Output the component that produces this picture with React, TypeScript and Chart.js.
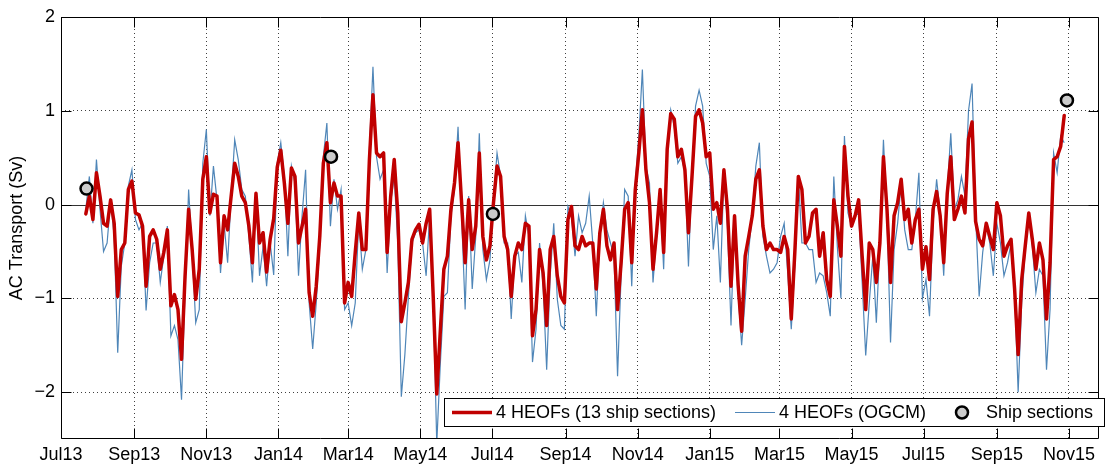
import { useEffect, useRef } from "react";
import { Chart, registerables } from "chart.js";

Chart.register(...registerables);

// Daily AC transport anomalies (Sv), sampled every 3 days from day 21 after 1 Jul 2013
const FIRST_DAY = 21;
const STEP_DAYS = 3;

// 4 HEOFs reconstruction trained on 13 ship sections
const heofShipSections = [
  -0.10, 0.09, -0.16, 0.34, 0.09, -0.20, -0.23, 0.05, -0.20, -0.98,
  -0.48, -0.41, 0.16, 0.25, -0.09, -0.11, -0.23, -0.87, -0.34, -0.27,
  -0.37, -0.69, -0.51, -0.27, -1.08, -0.96, -1.12, -1.65, -0.76, -0.05,
  -0.48, -1.01, -0.69, 0.27, 0.51, -0.09, 0.11, 0.09, -0.62, -0.12,
  -0.27, 0.09, 0.44, 0.30, 0.09, 0.02, -0.23, -0.62, 0.12, -0.41,
  -0.30, -0.72, -0.37, -0.15, 0.40, 0.58, 0.23, -0.20, 0.39, 0.30,
  -0.41, -0.23, -0.05, -0.94, -1.19, -0.87, -0.34, 0.44, 0.66, 0.02,
  0.23, 0.09, 0.09, -1.05, -0.83, -0.98, -0.51, -0.09, -0.48, -0.48,
  0.48, 1.17, 0.55, 0.51, 0.55, -0.51, 0.09, 0.48, -0.09, -1.25,
  -1.05, -0.83, -0.37, -0.27, -0.21, -0.41, -0.20, -0.05, -0.98, -2.02,
  -1.35, -0.69, -0.55, -0.05, 0.23, 0.66, 0.02, -0.62, 0.05, -0.48,
  -0.23, 0.55, -0.34, -0.59, -0.44, 0.02, 0.41, 0.30, -0.34, -0.48,
  -0.98, -0.55, -0.41, -0.48, -0.20, -0.23, -1.40, -1.12, -0.48, -0.73,
  -1.29, -0.48, -0.34, -0.76, -0.98, -1.05, -0.16, -0.02, -0.44, -0.48,
  -0.34, -0.44, -0.41, -0.41, -0.90, -0.30, -0.05, -0.44, -0.59, -0.41,
  -1.12, -0.62, -0.05, 0.02, -0.62, 0.16, 0.55, 1.01, 0.37, 0.02,
  -0.69, -0.30, 0.16, -0.51, 0.59, 0.97, 0.91, 0.51, 0.59, 0.37,
  -0.30, 0.30, 0.94, 1.01, 0.87, 0.51, 0.55, -0.05, 0.02, -0.20,
  0.37, -0.05, -0.87, -0.12, -0.85, -1.35, -0.55, -0.34, -0.12, 0.27,
  0.37, -0.23, -0.48, -0.41, -0.48, -0.48, -0.51, -0.34, -0.48, -1.22,
  -0.51, 0.30, 0.16, -0.41, -0.34, -0.09, -0.05, -0.55, -0.30, -0.80,
  -0.98, 0.05, -0.23, -0.55, 0.62, 0.09, -0.23, -0.12, 0.05, -0.55,
  -1.12, -0.41, -0.48, -0.83, -0.41, 0.51, -0.05, -0.83, -0.12, 0.02,
  0.27, -0.16, -0.05, -0.41, -0.16, -0.05, -0.69, -0.45, -0.80, -0.05,
  0.14, -0.12, -0.62, 0.12, 0.51, -0.16, -0.05, 0.09, -0.09, 0.70,
  0.88, -0.18, -0.37, -0.44, -0.20, -0.34, -0.48, 0.02, -0.12, -0.55,
  -0.44, -0.37, -0.90, -1.60, -0.80, -0.44, -0.09, -0.37, -0.69, -0.41,
  -0.59, -1.22, -0.62, 0.48, 0.51, 0.62, 0.95,
];

// 4 HEOFs reconstruction from the ocean model (OGCM)
const heofOgcm = [
  -0.05, 0.30, -0.20, 0.48, -0.05, -0.50, -0.41, 0.04, -0.34, -1.58,
  -0.66, -0.41, 0.20, 0.37, -0.16, -0.27, -0.20, -1.13, -0.62, -0.41,
  -0.41, -0.83, -0.55, -0.23, -1.40, -1.29, -1.44, -2.08, -0.90, 0.16,
  -0.51, -1.26, -1.12, 0.44, 0.80, -0.12, 0.41, 0.05, -0.73, -0.20,
  -0.62, 0.09, 0.69, 0.48, 0.16, 0.09, -0.34, -0.83, 0.12, -0.76,
  -0.45, -0.87, -0.41, -0.75, 0.44, 0.66, 0.30, -0.55, 0.41, 0.23,
  -0.76, -0.12, 0.37, -1.05, -1.54, -1.05, -0.41, 0.51, 0.87, -0.23,
  0.27, -0.05, 0.16, -1.12, -1.05, -1.29, -1.05, -0.16, -0.69, -0.48,
  0.59, 1.47, 0.51, 0.27, 0.37, -0.73, 0.02, 0.30, -0.41, -2.05,
  -1.60, -0.98, -0.41, -0.30, -0.27, -0.41, -0.76, -0.12, -0.98, -2.55,
  -1.70, -0.98, -0.94, -0.12, 0.16, 0.83, -0.12, -1.12, 0.09, -0.90,
  -0.34, 0.76, -0.48, -0.80, -0.59, 0.05, 0.55, 0.30, -0.41, -0.41,
  -1.22, -0.55, -0.51, -0.83, -0.12, -0.34, -1.68, -1.33, -0.41, -0.87,
  -1.76, -0.76, -0.20, -1.01, -1.29, -1.33, -0.02, -0.12, -0.55, -0.12,
  -0.30, -0.20, 0.09, -0.41, -1.19, -0.34, 0.02, -0.27, -0.41, -0.55,
  -1.83, -0.76, 0.16, 0.09, -0.87, 0.23, 0.73, 1.44, 0.41, 0.23,
  -0.83, -0.34, 0.12, -0.69, 0.62, 1.01, 0.83, 0.44, 0.51, 0.34,
  -0.66, 0.34, 1.05, 1.22, 1.05, 0.44, 0.30, -0.48, -0.12, -0.83,
  0.34, -0.23, -1.29, -0.12, -0.95, -1.50, -1.01, -0.48, -0.12, 0.41,
  0.66, -0.34, -0.55, -0.73, -0.69, -0.62, -0.34, -0.20, -0.73, -1.33,
  -0.66, 0.30, -0.41, -0.41, -0.48, -0.48, -0.83, -0.73, -0.76, -0.94,
  -1.19, 0.30, -0.45, -1.00, 0.73, -0.09, -0.23, -0.12, -0.09, -0.83,
  -1.61, -1.05, -0.55, -1.26, -0.41, 0.69, -0.12, -1.47, -0.48, -0.20,
  0.23, -0.27, -0.48, -0.48, -0.16, 0.34, -1.00, -0.80, -1.19, -0.20,
  0.27, -0.09, -0.76, 0.16, 0.76, -0.05, 0.05, 0.30, 0.09, 1.00,
  1.29, -0.12, -0.98, -0.51, -0.23, -0.41, -0.76, -0.20, -0.41, -0.76,
  -0.62, -0.41, -0.94, -2.00, -1.05, -0.48, -0.12, -0.44, -0.94, -0.69,
  -0.76, -1.76, -1.12, 0.55, 0.34, 0.73, 0.66,
];

// Ship-section transports (day after 1 Jul 2013, Sv)
const shipDays = [21.6, 228.5, 365.5, 851.3];
const shipValues = [0.17, 0.51, -0.1, 1.11];

// Axis ticks: first day of every other month, counted from 1 Jul 2013
const monthTickDays = [0, 62, 123, 184, 243, 304, 365, 427, 488, 549, 608, 669, 730, 792, 853];
const monthTickLabels = [
  "Jul13", "Sep13", "Nov13", "Jan14", "Mar14", "May14", "Jul14", "Sep14",
  "Nov14", "Jan15", "Mar15", "May15", "Jul15", "Sep15", "Nov15",
];
const yTickValues = [-2, -1, 0, 1, 2];

const X_MAX_DAY = 878;
const FONT = '"Liberation Sans", Arial, Helvetica, sans-serif';
const RED = "#c00000";
const BLUE = "#4f86b8";
const TICK_LEN = 10;

const matlabAxes = {
  id: "matlabAxes",
  beforeDatasetsDraw(chart: any) {
    const { ctx, chartArea: a, scales } = chart;
    const y0 = Math.round(scales.y.getPixelForValue(0)) + 0.5;
    ctx.save();
    ctx.strokeStyle = "#333";
    ctx.lineWidth = 1;
    ctx.beginPath();
    ctx.moveTo(a.left, y0);
    ctx.lineTo(a.right, y0);
    ctx.stroke();
    ctx.restore();
  },
  afterDatasetsDraw(chart: any) {
    const { ctx, chartArea: a, scales } = chart;
    const L = Math.floor(a.left) + 0.5;
    const R = Math.ceil(a.right) - 0.5;
    const T = Math.floor(a.top) + 0.5;
    const B = Math.ceil(a.bottom) - 0.5;
    ctx.save();
    ctx.strokeStyle = "#000";
    ctx.lineWidth = 1;
    ctx.beginPath();
    ctx.rect(L, T, R - L, B - T);
    for (const d of monthTickDays) {
      const x = Math.round(scales.x.getPixelForValue(d)) + 0.5;
      ctx.moveTo(x, B);
      ctx.lineTo(x, B - TICK_LEN);
      ctx.moveTo(x, T);
      ctx.lineTo(x, T + TICK_LEN);
    }
    for (const v of yTickValues) {
      const y = Math.round(scales.y.getPixelForValue(v)) + 0.5;
      ctx.moveTo(L, y);
      ctx.lineTo(L + TICK_LEN, y);
      ctx.moveTo(R, y);
      ctx.lineTo(R - TICK_LEN, y);
    }
    ctx.stroke();
    ctx.restore();
  },
  afterDraw(chart: any) {
    const { ctx, chartArea: a } = chart;
    ctx.save();
    // y-axis title
    ctx.fillStyle = "#000";
    ctx.font = `18px ${FONT}`;
    ctx.translate(17, (a.top + a.bottom) / 2);
    ctx.rotate(-Math.PI / 2);
    ctx.textAlign = "center";
    ctx.textBaseline = "middle";
    ctx.fillText("AC Transport (Sv)", 0, 0);
    ctx.restore();

    // legend box in the lower right corner of the axes
    const bx = 444.5, by = 398.5, bw = 660, bh = 28;
    const cy = by + bh / 2;
    ctx.save();
    ctx.fillStyle = "#fff";
    ctx.fillRect(bx, by, bw, bh);
    ctx.strokeStyle = "#000";
    ctx.lineWidth = 1;
    ctx.strokeRect(bx, by, bw, bh);

    ctx.font = `18px ${FONT}`;
    ctx.fillStyle = "#000";
    ctx.textAlign = "left";
    ctx.textBaseline = "middle";

    ctx.strokeStyle = RED;
    ctx.lineWidth = 3.5;
    ctx.beginPath();
    ctx.moveTo(452, cy);
    ctx.lineTo(492, cy);
    ctx.stroke();
    ctx.fillText("4 HEOFs (13 ship sections)", 496, cy + 1);

    ctx.strokeStyle = BLUE;
    ctx.lineWidth = 1.2;
    ctx.beginPath();
    ctx.moveTo(735, cy);
    ctx.lineTo(775, cy);
    ctx.stroke();
    ctx.fillText("4 HEOFs (OGCM)", 779, cy + 1);

    ctx.beginPath();
    ctx.arc(962, cy, 6, 0, Math.PI * 2);
    ctx.fillStyle = "#cccccc";
    ctx.fill();
    ctx.strokeStyle = "#000";
    ctx.lineWidth = 2.5;
    ctx.stroke();
    ctx.fillStyle = "#000";
    ctx.fillText("Ship sections", 986, cy + 1);
    ctx.restore();
  },
};

export default function App() {
  const canvasRef = useRef<HTMLCanvasElement | null>(null);

  useEffect(() => {
    const canvas = canvasRef.current;
    if (!canvas) return;

    const toPoints = (values: number[]) =>
      values.map((v, i) => ({ x: FIRST_DAY + i * STEP_DAYS, y: v }));

    const chart = new Chart(canvas, {
      type: "line",
      data: {
        datasets: [
          {
            label: "4 HEOFs (13 ship sections)",
            data: toPoints(heofShipSections),
            borderColor: RED,
            borderWidth: 3.5,
            borderJoinStyle: "round",
            borderCapStyle: "round",
            pointRadius: 0,
            tension: 0,
          },
          {
            label: "4 HEOFs (OGCM)",
            data: toPoints(heofOgcm),
            borderColor: BLUE,
            borderWidth: 1.2,
            pointRadius: 0,
            tension: 0,
          },
          {
            label: "Ship sections",
            data: shipDays.map((d, i) => ({ x: d, y: shipValues[i] })),
            showLine: false,
            pointRadius: 6,
            pointBackgroundColor: "#cccccc",
            pointBorderColor: "#000",
            pointBorderWidth: 2.5,
            order: -1,
          },
        ],
      },
      options: {
        responsive: false,
        animation: false,
        devicePixelRatio: 1,
        layout: { padding: { left: 0, right: 1, top: 17, bottom: 0 } },
        plugins: {
          legend: { display: false },
          tooltip: { enabled: false },
        },
        scales: {
          x: {
            type: "linear",
            min: 0,
            max: X_MAX_DAY,
            afterBuildTicks: (scale: any) => {
              scale.ticks = monthTickDays.map((v) => ({ value: v }));
            },
            afterFit: (scale: any) => {
              scale.height = 27;
            },
            ticks: {
              autoSkip: false,
              maxRotation: 0,
              padding: 5,
              color: "#000",
              font: { family: FONT, size: 18 },
              callback: (_v: any, i: number) => monthTickLabels[i],
            },
            grid: {
              drawTicks: false,
              color: "rgba(0,0,0,0.75)",
              lineWidth: 1,
            },
            border: { display: false, dash: [1, 3] },
          },
          y: {
            type: "linear",
            min: -2.5,
            max: 2,
            afterBuildTicks: (scale: any) => {
              scale.ticks = yTickValues.map((v) => ({ value: v }));
            },
            afterFit: (scale: any) => {
              scale.width = 61;
            },
            ticks: {
              padding: 6,
              color: "#000",
              font: { family: FONT, size: 18 },
              callback: (v: any) => (v < 0 ? "\u2212" + Math.abs(v) : String(v)),
            },
            grid: {
              drawTicks: false,
              color: (ctx: any) => (ctx.tick && ctx.tick.value === 0 ? "rgba(0,0,0,0)" : "rgba(0,0,0,0.75)"),
              lineWidth: 1,
            },
            border: { display: false, dash: [1, 3] },
          },
        },
      },
      plugins: [matlabAxes],
    });

    return () => chart.destroy();
  }, []);

  return (
    <div style={{ position: "fixed", left: 0, top: 0, width: 1107, height: 466, background: "#fff" }}>
      <canvas ref={canvasRef} width={1107} height={466} style={{ display: "block" }} />
    </div>
  );
}
